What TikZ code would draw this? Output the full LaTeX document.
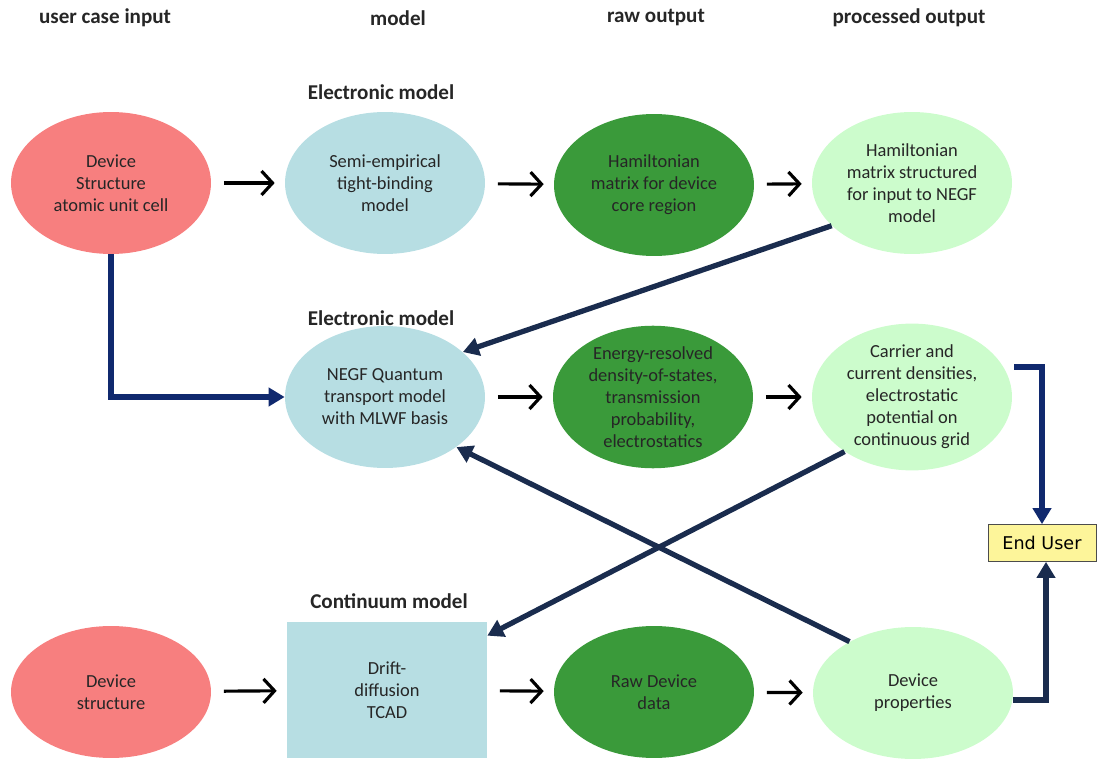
\documentclass[tikz,border=0pt]{standalone}
\usepackage{fontspec}
\setmainfont{Carlito}
\newfontfamily\userfont{DejaVu Sans}
\usepackage{tikz}
\usetikzlibrary{arrows.meta,shapes.geometric,calc}

\definecolor{inred}{HTML}{F77F7F}
\definecolor{modblue}{HTML}{B7DEE3}
\definecolor{rawgreen}{HTML}{3A9A3A}
\definecolor{procgreen}{HTML}{CCFCCC}
\definecolor{useryellow}{HTML}{FDF59A}
\definecolor{navyline}{HTML}{1A2C4E}
\definecolor{blueline}{HTML}{10296E}

\tikzset{
    stage/.style={ellipse, minimum width=4cm, minimum height=2.84cm, inner sep=0pt, align=center,
        font=\fontsize{10.5}{12.5}\selectfont, text=black!85},
    header/.style={font=\fontsize{12}{14}\selectfont\bfseries, text=black!85},
    steparrow/.style={-{Straight Barb[length=2.2mm,width=4.8mm]}, line width=1.8pt,
        shorten <=0.25cm, shorten >=0.2cm},
    feed/.style={line width=3pt, draw=navyline, -{Triangle[length=3.2mm,width=3.6mm]}}
}

\begin{document}
\begin{tikzpicture}[x=0.02cm, y=-0.02cm]
            \useasboundingbox (0,0) rectangle (1100,760);

            \node[header] (hin) at (105,18) {user case input};
            \node[header] (hmod) at (398,18) {model};
            \node[header] (hraw) at (656,18) {raw output};
            \node[header] (hproc) at (909,18) {processed output};

            \node[header] (elec1) at (381,92) {Electronic model};
            \node[header] (elec2) at (381,318) {Electronic model};
            \node[header] (cont) at (389,601) {Continuum model};

            % electronic chain
            \node[stage, fill=inred] (devcell) at (111,183) {Device\\Structure\\atomic unit cell};
            \node[stage, fill=modblue] (tightb) at (385,183) {Semi-empirical\\tight-binding\\model};
            \node[stage, fill=rawgreen] (hamraw) at (654,185) {Hamiltonian\\matrix for device\\core region};
            \node[stage, fill=procgreen] (hamproc) at (912,183) {Hamiltonian\\matrix structured\\for input to NEGF\\model};

            \node[stage, fill=modblue] (negf) at (385,397) {NEGF Quantum\\transport model\\with MLWF basis};
            \node[stage, fill=rawgreen] (energy) at (653,397) {Energy-resolved\\density-of-states,\\transmission\\probability,\\electrostatics};
            \node[stage, fill=procgreen] (carrier) at (912,397) {Carrier and\\current densities,\\electrostatic\\potential on\\continuous grid};

            % continuum chain
            \node[stage, fill=inred, minimum height=2.64cm] (devstruct) at (111,692) {Device\\structure};
            \node[rectangle, fill=modblue, minimum width=4cm, minimum height=2.72cm, align=center,
                font=\fontsize{10.5}{12.5}\selectfont, text=black!85] (drift) at (387,690) {Drift-\\diffusion\\TCAD};
            \node[stage, fill=rawgreen, minimum height=2.64cm] (rawdata) at (654,692) {Raw Device\\data};
            \node[stage, fill=procgreen, minimum height=2.64cm] (devprop) at (913,693) {Device\\properties};

            \node[draw=black!70, fill=useryellow, minimum width=2.16cm, minimum height=0.74cm,
                font=\userfont\fontsize{10}{12}\selectfont] (enduser) at (1042,543) {End User};

            \draw[steparrow] (devcell) -- (tightb);
            \draw[steparrow] (tightb) -- (hamraw);
            \draw[steparrow] (hamraw) -- (hamproc);
            \draw[steparrow] (negf) -- (energy);
            \draw[steparrow] (energy) -- (carrier);
            \draw[steparrow] (devstruct) -- (drift);
            \draw[steparrow] (drift) -- (rawdata);
            \draw[steparrow] (rawdata) -- (devprop);

            \draw[feed, draw=blueline] (devcell.south) |- (negf.west);
            \draw[feed] (hamproc.208) -- (negf.30);
            \draw[feed] (devprop.141) -- (negf.325);
            \draw[feed] (carrier.219) -- ($(drift.north east)+(0,14)$);
            \draw[feed, draw=blueline] ($(carrier.east)+(2,-30)$) -| (enduser.north);
            \draw[feed] ($(devprop.east)+(0,7)$) -| ([xshift=0.08cm]enduser.south);
\end{tikzpicture}
\end{document}
